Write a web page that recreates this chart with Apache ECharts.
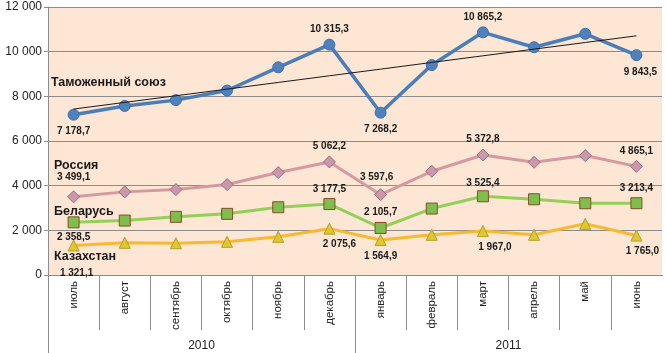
<!DOCTYPE html>
<html><head><meta charset="utf-8">
<script src="https://cdn.jsdelivr.net/npm/echarts@6/dist/echarts.min.js"></script>
<style>html,body{margin:0;padding:0;background:#fff}#c{width:667px;height:353px}</style>
</head><body><div id="c"></div>
<script>
const months = ['июль','август','сентябрь','октябрь','ноябрь','декабрь','январь','февраль','март','апрель','май','июнь'];
const years = ['2010','2011'];
const yTicks = [0, 2000, 4000, 6000, 8000, 10000, 12000];
const customsUnion = [7178.7, 7570, 7830, 8260, 9300, 10315.3, 7268.2, 9400, 10865.2, 10200, 10800, 9843.5];
const russia = [3499.1, 3722, 3826, 4049, 4586, 5062.2, 3597.6, 4644, 5372.8, 5047, 5347, 4865.1];
const belarus = [2358.5, 2438, 2604, 2738, 3034, 3177.5, 2105.7, 2975, 3525.4, 3391, 3212, 3213.4];
const kazakhstan = [1321.1, 1440, 1423, 1485, 1709, 2075.6, 1564.9, 1799, 1967.0, 1799, 2291, 1765.0];
const labeledIdx = [0, 5, 6, 8, 11];

function fmt(v, dec) {
  const s = v.toFixed(dec);
  const parts = s.split('.');
  const int = parts[0].replace(/\B(?=(\d{3})+(?!\d))/g, ' ');
  return parts.length > 1 ? int + ',' + parts[1] : int;
}
// linear trend of customs union
const n = customsUnion.length;
const mx = (n - 1) / 2;
const my = customsUnion.reduce((a, b) => a + b, 0) / n;
let sxy = 0, sxx = 0;
customsUnion.forEach((v, i) => { sxy += (i - mx) * (v - my); sxx += (i - mx) * (i - mx); });
const slope = sxy / sxx;
const trend = customsUnion.map((v, i) => my + slope * (i - mx));

const labelFont = { fontFamily: 'Liberation Sans', fontWeight: 'bold', fontSize: 10, color: '#1a1a1a' };
function mkData(arr, pos) {
  return arr.map((v, i) => {
    const k = labeledIdx.indexOf(i);
    if (k < 0) return v;
    const p = pos[k];
    return { value: v, label: Object.assign({ show: true, position: p[0], distance: p[1], offset: p[2] || [0, 0], formatter: (o) => fmt(o.value, 1) }, labelFont) };
  });
}

const chart = echarts.init(document.getElementById('c'));
chart.setOption({
  animation: false,
  backgroundColor: '#fff',
  grid: { left: 48, right: 5, top: 7, bottom: 78, show: true, backgroundColor: '#FDE6D3', borderWidth: 0 },
  xAxis: [
    { type: 'category', data: months, position: 'bottom', boundaryGap: true,
      axisLine: { show: true, lineStyle: { color: '#8c8c8c', width: 1 } },
      axisTick: { show: true, alignWithLabel: false, length: 55, lineStyle: { color: '#8c8c8c' } },
      axisLabel: { rotate: 90, margin: 6, fontFamily: 'Liberation Sans', fontSize: 11.5, color: '#222' } },
    { type: 'category', data: years, position: 'bottom', boundaryGap: true,
      axisLine: { show: false },
      axisTick: { show: true, alignWithLabel: false, length: 78, lineStyle: { color: '#8c8c8c' } },
      axisLabel: { margin: 65, fontFamily: 'Liberation Sans', fontSize: 12, color: '#222' } }
  ],
  yAxis: { type: 'value', min: yTicks[0], max: yTicks[yTicks.length - 1], interval: 2000,
    axisLine: { show: true, lineStyle: { color: '#8c8c8c' } },
    axisTick: { show: true, length: 4, lineStyle: { color: '#8c8c8c' } },
    splitLine: { show: true, lineStyle: { color: '#8c8c8c', width: 1 } },
    axisLabel: { margin: 6, fontFamily: 'Liberation Sans', fontSize: 12, color: '#222', formatter: (v) => fmt(v, 0) } },
  series: [
    { name: 'Таможенный союз', type: 'line', data: mkData(customsUnion, [['bottom', 6], ['top', 4], ['bottom', 6], ['top', 4], ['bottom', 6, [4, 0]]]),
      symbol: 'circle', symbolSize: 11, lineStyle: { color: '#4A7EBB', width: 3.5 }, itemStyle: { color: '#4F81BD', borderColor: '#3F6FAE', borderWidth: 1 }, z: 5 },
    { name: 'Россия', type: 'line', data: mkData(russia, [['top', 8], ['top', 4], ['top', 6, [-4, 0]], ['top', 4], ['top', 4]]),
      symbol: 'diamond', symbolSize: 12, lineStyle: { color: '#D5999F', width: 3 }, itemStyle: { color: '#C999AB', borderColor: '#9C6B80', borderWidth: 1 }, z: 4 },
    { name: 'Беларусь', type: 'line', data: mkData(belarus, [['bottom', 4], ['top', 4], ['top', 5], ['top', 2], ['top', 4]]),
      symbol: 'rect', symbolSize: 11, lineStyle: { color: '#93D058', width: 3 }, itemStyle: { color: '#7DBE4C', borderColor: '#8A4B2B', borderWidth: 1 }, z: 4 },
    { name: 'Казахстан', type: 'line', data: mkData(kazakhstan, [['bottom', 17, [3, 0]], ['bottom', 5, [10, 0]], ['bottom', 5], ['bottom', 5, [12, 0]], ['bottom', 5, [6, 0]]]),
      symbol: 'triangle', symbolSize: 11, lineStyle: { color: '#F7B930', width: 3 }, itemStyle: { color: '#DDC830', borderColor: '#B59E2C', borderWidth: 1 }, z: 4 },
    { name: 'trend', type: 'line', data: trend, symbol: 'none', silent: true,
      lineStyle: { color: '#1a1a1a', width: 1 }, z: 6 }
  ],
  graphic: [
    { type: 'rect', left: 661, top: 276, shape: { width: 6, height: 77 }, style: { fill: '#fff' }, z: 100 },
    { type: 'text', left: 51, top: 76, style: { text: 'Таможенный союз', font: 'bold 12.5px Liberation Sans', fill: '#1a1a1a' } },
    { type: 'text', left: 54, top: 159, style: { text: 'Россия', font: 'bold 12.5px Liberation Sans', fill: '#1a1a1a' } },
    { type: 'text', left: 54, top: 205, style: { text: 'Беларусь', font: 'bold 12.5px Liberation Sans', fill: '#1a1a1a' } },
    { type: 'text', left: 54, top: 250, style: { text: 'Казахстан', font: 'bold 12.5px Liberation Sans', fill: '#1a1a1a' } }
  ]
});
</script></body></html>
